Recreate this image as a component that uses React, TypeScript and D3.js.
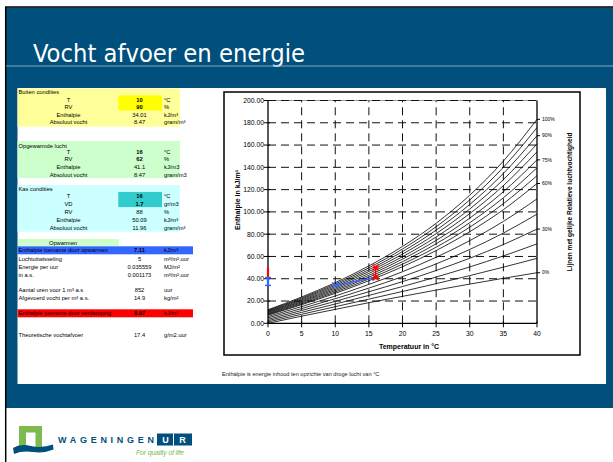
import React, { useEffect, useRef } from "react";
import * as d3 from "d3";

// psychrometric chart data
const temperatures = [0, 5, 10, 15, 20, 25, 30, 35, 40];
const rhLevels = [0, 10, 20, 30, 40, 50, 60, 65, 70, 75, 80, 85, 90, 95, 100];
// enthalpy in kJ/m3 per RH line, at each temperature
const enthalpyByRh = [
  [0, 6.4, 12.5, 18.5, 24.2, 29.8, 35.2, 40.4, 45.4],
  [1.2, 8.1, 14.9, 21.7, 28.6, 35.6, 42.8, 50.4, 58.3],
  [2.4, 9.8, 17.3, 25.0, 33.0, 41.5, 50.6, 60.5, 71.3],
  [3.6, 11.5, 19.7, 28.3, 37.4, 47.4, 58.4, 70.7, 84.6],
  [4.9, 13.2, 22.1, 31.6, 41.9, 53.3, 66.3, 81.0, 98.0],
  [6.1, 15.0, 24.5, 34.9, 46.3, 59.3, 74.2, 91.5, 111.7],
  [7.3, 16.7, 26.9, 38.2, 50.8, 65.3, 82.2, 102.0, 125.5],
  [7.9, 17.5, 28.1, 39.8, 53.1, 68.3, 86.3, 107.4, 132.5],
  [8.5, 18.4, 29.3, 41.5, 55.3, 71.4, 90.3, 112.7, 139.6],
  [9.1, 19.3, 30.5, 43.1, 57.6, 74.4, 94.4, 118.1, 146.7],
  [9.8, 20.1, 31.7, 44.8, 59.8, 77.5, 98.5, 123.6, 153.9],
  [10.4, 21.0, 32.9, 46.5, 62.1, 80.5, 102.6, 129.0, 161.1],
  [11.0, 21.9, 34.1, 48.1, 64.4, 83.6, 106.7, 134.5, 168.4],
  [11.6, 22.7, 35.3, 49.8, 66.7, 86.7, 110.8, 140.0, 175.7],
  [12.2, 23.6, 36.5, 51.5, 69.0, 89.8, 115.0, 145.6, 183.1],
];
const rhLabelLevels = [100, 90, 75, 60, 30, 0];
const xTicks = [0, 5, 10, 15, 20, 25, 30, 35, 40];
const yTicks = [0, 20, 40, 60, 80, 100, 120, 140, 160, 180, 200];

// process: buiten -> opgewarmd (blue), opgewarmd -> kas (red)
const processTemps = [10, 16];
const processEnthalpy = [34.01, 41.1];
const kasEnthalpy = 50.09;

// spreadsheet data
const buitenLabels = ["T", "RV", "Enthalpie", "Absoluut vocht"];
const buitenValues = ["10", "90", "34.01", "8.47"];
const buitenUnits = ["°C", "%", "kJ/m³", "gram/m³"];
const opgewarmdLabels = ["T", "RV", "Enthalpie", "Absoluut vocht"];
const opgewarmdValues = ["16", "62", "41.1", "8.47"];
const opgewarmdUnits = ["°C", "%", "kJ/m3", "gram/m3"];
const kasLabels = ["T", "VD", "RV", "Enthalpie", "Absoluut vocht"];
const kasValues = ["16", "1.7", "88", "50.09", "11.96"];
const kasUnits = ["°C", "gr/m3", "%", "kJ/m³", "gram/m³"];
const energyLabels = [
  "Luchtuitwisseling",
  "Energie per uur",
  "in a.s.",
  "Aantal uren voor 1 m³ a.s",
  "Afgevoerd vocht per m³ a.s.",
];
const energyValues = ["5", "0.035559", "0.001173", "852", "14.9"];
const energyUnits = ["m³/m².uur", "MJ/m²", "m³/m².uur", "uur", "kg/m²"];

const FONT = "'Liberation Sans', Arial, Helvetica, sans-serif";
const BLUE = "#004f7c";

type G = d3.Selection<SVGGElement, unknown, null, undefined>;

const addText = (
  g: G,
  x: number,
  y: number,
  str: string,
  size: number,
  anchor = "start",
  weight = "normal",
  fill = "#000",
) =>
  g
    .append("text")
    .attr("x", x)
    .attr("y", y)
    .attr("dy", "0.35em")
    .attr("text-anchor", anchor)
    .style("font-family", FONT)
    .style("font-size", `${size}px`)
    .style("font-weight", weight)
    .attr("fill", fill)
    .text(str);

export default function App() {
  const ref = useRef<SVGSVGElement | null>(null);

  useEffect(() => {
    const root = d3.select(ref.current);
    root.selectAll("*").remove();
    const svg = root.append("g") as unknown as G;

    // slide background
    svg.append("rect").attr("width", 613).attr("height", 462).attr("fill", "#fff");
    svg.append("rect").attr("x", 6).attr("y", 7.5).attr("width", 607).attr("height", 400.5).attr("fill", BLUE);
    svg.append("line").attr("x1", 5).attr("x2", 613).attr("y1", 7).attr("y2", 7).attr("stroke", "#000").attr("stroke-width", 1.5);
    svg.append("line").attr("x1", 5.7).attr("x2", 5.7).attr("y1", 7).attr("y2", 462).attr("stroke", "#000").attr("stroke-width", 1.5);

    // title
    svg
      .append("text")
      .attr("x", 33)
      .attr("y", 62)
      .attr("fill", "#fff")
      .style("font-family", "'Liberation Sans Narrow', 'DejaVu Sans Condensed', 'Liberation Sans', sans-serif")
      .style("font-size", "25px")
      .attr("textLength", 272)
      .attr("lengthAdjust", "spacingAndGlyphs")
      .text("Vocht afvoer en energie");
    svg.append("line").attr("x1", 6).attr("x2", 613).attr("y1", 66).attr("y2", 66).attr("stroke", "#86a8c2").attr("stroke-width", 1.2);

    // white panel
    svg.append("rect").attr("x", 17.5).attr("y", 88).attr("width", 588.5).attr("height", 296).attr("fill", "#fff");

    // ---------- spreadsheet ----------
    const fs = 5.75;
    const labelX = 68.5;
    const valueX = 139.5;
    const unitX = 164;

    const section = (
      y0: number,
      y1: number,
      fill: string,
      title: string,
      titleY: number,
      rowYs: number[],
      labels: string[],
      values: string[],
      units: string[],
      boldRows: number,
      hiFill: string | null,
    ) => {
      svg.append("rect").attr("x", 17.5).attr("y", y0).attr("width", 162.5).attr("height", y1 - y0).attr("fill", fill);
      if (hiFill) {
        const h0 = rowYs[0] - 4.3;
        const h1 = rowYs[1] + 3.3;
        svg.append("rect").attr("x", 118.3).attr("y", h0).attr("width", 43.7).attr("height", h1 - h0).attr("fill", hiFill);
      }
      addText(svg, 18.5, titleY, title, fs);
      labels.forEach((l, i) => {
        addText(svg, labelX, rowYs[i], l, fs, "middle");
        addText(svg, valueX, rowYs[i], values[i], fs, "middle", i < boldRows ? "bold" : "normal");
        addText(svg, unitX, rowYs[i], units[i], fs);
      });
    };

    section(88.5, 126.7, "#ffff99", "Buiten condities", 91.5, [99.7, 107.2, 114.6, 122.3], buitenLabels, buitenValues, buitenUnits, 2, "#ffff00");
    section(141, 178, "#ccffcc", "Opgewarmde lucht", 145.7, [152.2, 159.4, 167, 174.8], opgewarmdLabels, opgewarmdValues, opgewarmdUnits, 2, null);
    section(185, 231.7, "#ccffff", "Kas condities", 189, [196.3, 203.8, 211.7, 219.8, 227.7], kasLabels, kasValues, kasUnits, 2, "#33cccc");

    svg.append("rect").attr("x", 18).attr("y", 239).attr("width", 101).attr("height", 7.3).attr("fill", "#ccffcc");
    addText(svg, 63, 242.7, "Opwarmen", fs, "middle");

    svg.append("rect").attr("x", 17.5).attr("y", 246.3).attr("width", 175.5).attr("height", 8).attr("fill", "#3366ff");
    addText(svg, 18.5, 250.3, "Enthalpie toename door opwarmen", fs);
    addText(svg, valueX, 250.3, "7.11", fs, "middle", "bold");
    addText(svg, unitX, 250.3, "kJ/m³", fs);

    const energyYs = [259.3, 267.3, 275, 289.7, 297.7];
    energyLabels.forEach((l, i) => {
      addText(svg, 18.5, energyYs[i], l, fs);
      addText(svg, valueX, energyYs[i], energyValues[i], fs, "middle");
      addText(svg, unitX, energyYs[i], energyUnits[i], fs);
    });

    svg.append("rect").attr("x", 17.5).attr("y", 309.3).attr("width", 175.5).attr("height", 8).attr("fill", "#ff0000");
    addText(svg, 18.5, 313.3, "Enthalpie toename door verdamping", fs);
    addText(svg, valueX, 313.3, "8.97", fs, "middle", "bold");
    addText(svg, unitX, 313.3, "kJ/m³", fs);

    addText(svg, 18.5, 335.3, "Theoretische vochtafvoer", fs);
    addText(svg, valueX, 335.3, "17.4", fs, "middle");
    addText(svg, unitX, 335.3, "g/m2.uur", fs);

    // ---------- chart ----------
    svg.append("rect").attr("x", 224).attr("y", 92).attr("width", 356).attr("height", 263).attr("fill", "#fff").attr("stroke", "#000").attr("stroke-width", 1.5);

    const x = d3.scaleLinear().domain([0, 40]).range([268, 537]);
    const y = d3.scaleLinear().domain([0, 200]).range([323.3, 100.5]);
    const chart = svg.append("g");

    // grid
    chart.append("line").attr("x1", x(0)).attr("x2", x(40)).attr("y1", y(200)).attr("y2", y(200)).attr("stroke", "#999").attr("stroke-width", 1);
    yTicks.filter((t) => t > 0).forEach((t) => {
      chart.append("line").attr("x1", x(0)).attr("x2", x(40)).attr("y1", y(t)).attr("y2", y(t))
        .attr("stroke", "#111").attr("stroke-width", 1).attr("stroke-dasharray", "8,5");
    });
    xTicks.filter((t) => t > 0 && t < 40).forEach((t) => {
      chart.append("line").attr("x1", x(t)).attr("x2", x(t)).attr("y1", y(0)).attr("y2", y(200))
        .attr("stroke", "#111").attr("stroke-width", 1).attr("stroke-dasharray", "8,5");
    });

    // RH curves
    const line = d3
      .line<number>()
      .x((_, i) => x(temperatures[i]))
      .y((d) => y(d))
      .curve(d3.curveMonotoneX);
    enthalpyByRh.forEach((row) => {
      chart.append("path").attr("d", line(row) ?? "").attr("fill", "none").attr("stroke", "#000").attr("stroke-width", 0.8);
    });

    // axes
    chart.append("line").attr("x1", x(0)).attr("x2", x(0)).attr("y1", y(0)).attr("y2", y(200)).attr("stroke", "#000").attr("stroke-width", 1.3);
    chart.append("line").attr("x1", x(0)).attr("x2", x(40)).attr("y1", y(0)).attr("y2", y(0)).attr("stroke", "#000").attr("stroke-width", 1.3);
    chart.append("line").attr("x1", x(40)).attr("x2", x(40)).attr("y1", y(0)).attr("y2", y(200)).attr("stroke", "#000").attr("stroke-width", 1.3);

    yTicks.forEach((t) => {
      chart.append("line").attr("x1", x(0) - 4).attr("x2", x(0) + 2).attr("y1", y(t)).attr("y2", y(t)).attr("stroke", "#000").attr("stroke-width", 1);
      addText(chart, x(0) - 4, y(t), d3.format(".2f")(t), 6.8, "end");
    });
    xTicks.forEach((t) => {
      chart.append("line").attr("x1", x(t)).attr("x2", x(t)).attr("y1", y(0) - 2).attr("y2", y(0) + 4).attr("stroke", "#000").attr("stroke-width", 1);
      addText(chart, x(t), y(0) + 10.5, String(t), 6.8, "middle");
    });

    // right-side RH labels
    rhLabelLevels.forEach((rh) => {
      const row = enthalpyByRh[rhLevels.indexOf(rh)];
      const yy = y(row[row.length - 1]);
      chart.append("line").attr("x1", x(40)).attr("x2", x(40) + 3).attr("y1", yy).attr("y2", yy).attr("stroke", "#000").attr("stroke-width", 1);
      addText(chart, x(40) + 5, yy, `${rh}%`, 5, "start");
    });

    // axis titles
    chart.append("text")
      .attr("transform", `translate(238,200) rotate(-90)`)
      .attr("dy", "0.35em")
      .attr("text-anchor", "middle")
      .style("font-family", FONT).style("font-size", "7px").style("font-weight", "bold")
      .text("Enthalpie in kJ/m³");
    addText(chart, 409, 346.5, "Temperatuur in °C", 7, "middle", "bold");
    chart.append("text")
      .attr("transform", `translate(569.5,202) rotate(-90)`)
      .attr("dy", "0.35em")
      .attr("text-anchor", "middle")
      .style("font-family", FONT).style("font-size", "6.5px").style("font-weight", "bold")
      .text("Lijnen met gelijke Relatieve luchtvochtigheid");

    // process markers
    const cross = (cx: number, cy: number, color: string) => {
      chart.append("path")
        .attr("d", `M${cx - 3},${cy - 3}L${cx + 3},${cy + 3}M${cx - 3},${cy + 3}L${cx + 3},${cy - 3}`)
        .attr("stroke", color).attr("stroke-width", 1.3).attr("fill", "none");
    };
    const blue = "#3366ff";
    const red = "#ff0000";

    // bars on y axis (increments)
    chart.append("line").attr("x1", x(0)).attr("x2", x(0)).attr("y1", y(processEnthalpy[1])).attr("y2", y(kasEnthalpy)).attr("stroke", red).attr("stroke-width", 2.2);
    chart.append("line").attr("x1", x(0)).attr("x2", x(0)).attr("y1", y(processEnthalpy[0])).attr("y2", y(processEnthalpy[1])).attr("stroke", blue).attr("stroke-width", 2.2);
    processEnthalpy.forEach((h) => {
      chart.append("line").attr("x1", x(0) - 3).attr("x2", x(0) + 3).attr("y1", y(h)).attr("y2", y(h)).attr("stroke", blue).attr("stroke-width", 1.5);
    });

    // heating line
    const procLine = d3.line<number>().x((_, i) => x(processTemps[i])).y((d) => y(d));
    chart.append("path").attr("d", procLine(processEnthalpy) ?? "").attr("stroke", blue).attr("stroke-width", 1.4).attr("fill", "none");
    cross(x(processTemps[0]), y(processEnthalpy[0]), blue);

    // evaporation bar at kas temperature
    const tk = x(processTemps[1]);
    chart.append("line").attr("x1", tk).attr("x2", tk).attr("y1", y(processEnthalpy[1])).attr("y2", y(kasEnthalpy)).attr("stroke", red).attr("stroke-width", 1.3);
    [processEnthalpy[1], kasEnthalpy].forEach((h) => {
      chart.append("line").attr("x1", tk - 3).attr("x2", tk + 3).attr("y1", y(h)).attr("y2", y(h)).attr("stroke", red).attr("stroke-width", 1.3);
      cross(tk, y(h), red);
    });

    // caption
    addText(svg, 222, 374, "Enthalpie is energie inhoud ten opzichte van droge lucht van °C", 5.6, "start", "normal", "#222");

    // ---------- logo ----------
    const logo = svg.append("g");
    logo.append("path").attr("d", "M19,426H42V447H35.5V432.5H26V447H19Z").attr("fill", "#7dbb4f");
    logo.append("path")
      .attr("d", "M13,448 Q20,443.5 31,446 Q42,448.5 53,444.5 L53.5,449.5 Q44,453.5 33,452 Q22,450.5 14,454 Z")
      .attr("fill", BLUE);
    logo.append("text").attr("x", 58).attr("y", 440).attr("dy", "0.35em")
      .style("font-family", FONT).style("font-size", "9px").style("font-weight", "bold")
      .attr("textLength", 96).attr("lengthAdjust", "spacing").attr("fill", BLUE).text("WAGENINGEN");
    logo.append("rect").attr("x", 157).attr("y", 433.5).attr("width", 35).attr("height", 12).attr("fill", BLUE);
    logo.append("line").attr("x1", 173.5).attr("x2", 173.5).attr("y1", 433.5).attr("y2", 445.5).attr("stroke", "#fff").attr("stroke-width", 1);
    addText(logo, 165.5, 439.8, "U", 9, "middle", "bold", "#fff");
    addText(logo, 182.5, 439.8, "R", 9, "middle", "bold", "#fff");
    logo.append("text").attr("x", 136).attr("y", 453).attr("dy", "0.35em")
      .style("font-family", FONT).style("font-size", "7px").style("font-style", "italic")
      .attr("textLength", 48).attr("fill", "#7dbb4f").text("For quality of life");
  }, []);

  return (
    <svg
      ref={ref}
      width={613}
      height={462}
      style={{ position: "absolute", left: 0, top: 0, display: "block" }}
    />
  );
}
